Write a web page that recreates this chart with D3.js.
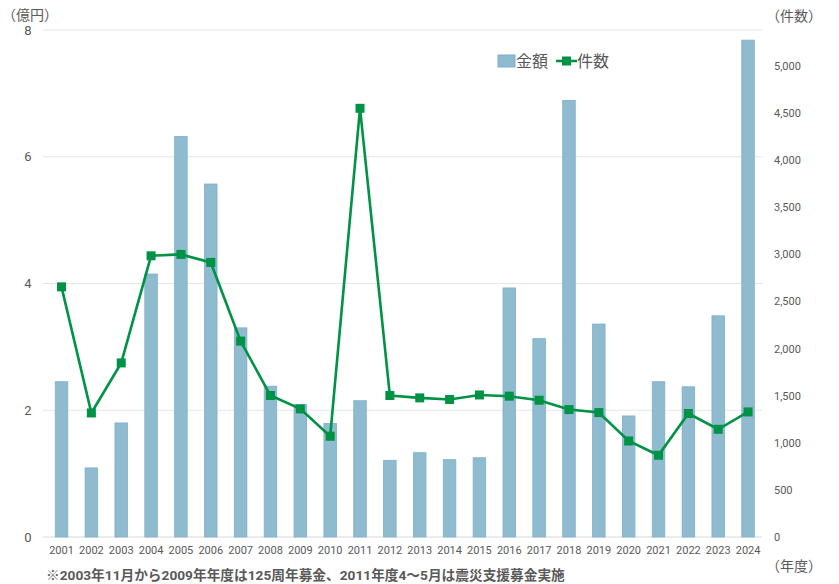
<!DOCTYPE html>
<html>
<head>
<meta charset="utf-8">
<script src="https://cdn.jsdelivr.net/npm/d3@7"></script>
<style>
  body { margin: 0; background: #fff; }
  text { font-family: Roboto, "Noto Sans CJK JP", sans-serif; fill: #595959; }
</style>
</head>
<body>
<div id="chart"></div>
<script>
const years = ["2001","2002","2003","2004","2005","2006","2007","2008","2009","2010","2011","2012",
  "2013","2014","2015","2016","2017","2018","2019","2020","2021","2022","2023","2024"];
// 金額（億円）
const amounts = [2.45,1.09,1.80,4.15,6.32,5.57,3.30,2.38,2.09,1.79,2.15,1.21,
  1.33,1.22,1.25,3.93,3.13,6.89,3.36,1.91,2.45,2.37,3.49,7.84];
// 件数
const counts = [2654,1316,1847,2983,2998,2913,2078,1501,1359,1069,4548,1501,
  1476,1459,1507,1494,1451,1352,1320,1019,867,1310,1143,1327];
const leftTicks = [0,2,4,6,8];
const rightTicks = [0,500,1000,1500,2000,2500,3000,3500,4000,4500,5000];

const width = 839, height = 584;
const margin = {top: 28, right: 76, bottom: 47, left: 46.6};
const innerW = width - margin.left - margin.right;
const innerH = height - margin.top - margin.bottom;

const svg = d3.select("#chart").append("svg")
  .attr("width", width)
  .attr("height", height);

const g = svg.append("g")
  .attr("transform", `translate(${margin.left},${margin.top})`);

let x = d3.scaleBand()
  .domain(years)
  .range([0, innerW])
  .paddingInner(0.58)
  .paddingOuter(0.29);

let y = d3.scaleLinear().domain([0, 8]).range([innerH, 2]);
let y2 = d3.scaleLinear().domain([0, 5400]).range([innerH, 0]);

// gridlines
g.selectAll(".grid")
  .data(leftTicks)
  .enter().append("line")
  .attr("x1", -4)
  .attr("x2", innerW - 1)
  .attr("y1", d => y(d))
  .attr("y2", d => y(d))
  .style("stroke", d => d === 0 ? "#d9d9d9" : "#e6e6e6")
  .style("stroke-width", 1);

// left axis
let yAxis = d3.axisLeft(y).tickValues(leftTicks).tickSize(0).tickPadding(15);
g.append("g").attr("class", "y axis").call(yAxis)
  .call(a => a.select(".domain").remove())
  .selectAll("text").style("font-size", "13px");

// right axis
let yAxis2 = d3.axisRight(y2).tickValues(rightTicks).tickSize(0)
  .tickFormat(d3.format(",")).tickPadding(0);
g.append("g").attr("class", "y2 axis")
  .attr("transform", `translate(${innerW + 11},0)`)
  .call(yAxis2)
  .call(a => a.select(".domain").remove())
  .selectAll("text").style("font-size", "11px");

// x axis
let xAxis = d3.axisBottom(x).tickSize(0).tickPadding(9);
g.append("g").attr("class", "x axis")
  .attr("transform", `translate(0,${innerH})`)
  .call(xAxis)
  .call(a => a.select(".domain").remove())
  .selectAll("text").style("font-size", "11px");

// bars
g.selectAll(".bar")
  .data(amounts)
  .enter().append("rect")
  .attr("class", "bar")
  .style("fill", "#8fbbce")
  .style("stroke", "#7eaed0")
  .style("stroke-width", 0.8)
  .attr("x", (d, i) => x(years[i]))
  .attr("width", x.bandwidth())
  .attr("y", d => y(d))
  .attr("height", d => innerH - y(d));

// line
const green = "#009245";
let line = d3.line()
  .x((d, i) => x(years[i]) + x.bandwidth() / 2)
  .y(d => y2(d));

g.append("path")
  .datum(counts)
  .attr("d", line)
  .style("fill", "none")
  .style("stroke", green)
  .style("stroke-width", 2.6);

const ms = 9;
g.selectAll(".marker")
  .data(counts)
  .enter().append("rect")
  .attr("class", "marker")
  .style("fill", green)
  .attr("x", (d, i) => x(years[i]) + x.bandwidth() / 2 - ms / 2)
  .attr("y", d => y2(d) - ms / 2)
  .attr("width", ms)
  .attr("height", ms);

// axis titles
svg.append("text").attr("x", 2).attr("y", 20)
  .style("font-size", "14px").text("（億円）");
svg.append("text").attr("x", 766).attr("y", 21)
  .style("font-size", "14px").text("（件数）");
svg.append("text").attr("x", 766).attr("y", 571)
  .style("font-size", "14px").text("（年度）");

// footnote
svg.append("text").attr("x", 46).attr("y", 580)
  .style("font-size", "13.7px").style("font-weight", "bold")
  .text("※2003年11月から2009年年度は125周年募金、2011年度4～5月は震災支援募金実施");

// legend
const lg = svg.append("g").attr("transform", "translate(498,61)");
lg.append("rect").attr("x", 0).attr("y", -6).attr("width", 17).attr("height", 12)
  .style("fill", "#8fbbce").style("stroke", "#7eaed0");
lg.append("text").attr("x", 18).attr("y", 6).style("font-size", "16px").text("金額");
lg.append("line").attr("x1", 58).attr("x2", 79).attr("y1", 0).attr("y2", 0)
  .style("stroke", green).style("stroke-width", 2.6);
lg.append("rect").attr("x", 64).attr("y", -4.5).attr("width", 9).attr("height", 9)
  .style("fill", green);
lg.append("text").attr("x", 79).attr("y", 6).style("font-size", "16px").text("件数");
</script>
</body>
</html>
